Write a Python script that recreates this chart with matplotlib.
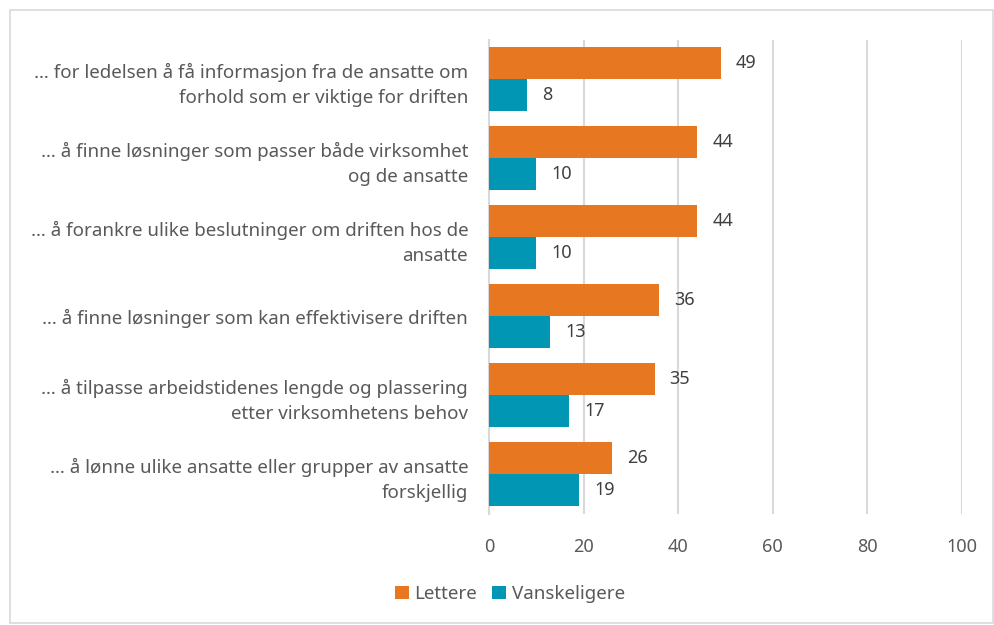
import numpy as np
import matplotlib.pyplot as plt
from matplotlib.patches import Rectangle

plt.rcParams['font.family'] = ['Noto Sans', 'DejaVu Sans']

categories = [
    '… for ledelsen å få informasjon fra de ansatte om\nforhold som er viktige for driften',
    '… å finne løsninger som passer både virksomhet\nog de ansatte',
    '… å forankre ulike beslutninger om driften hos de\nansatte',
    '… å finne løsninger som kan effektivisere driften',
    '… å tilpasse arbeidstidenes lengde og plassering\netter virksomhetens behov',
    '… å lønne ulike ansatte eller grupper av ansatte\nforskjellig',
]
lettere = [49, 44, 44, 36, 35, 26]
vanskeligere = [8, 10, 10, 13, 17, 19]
xticks = [0, 20, 40, 60, 80, 100]

orange = '#E87722'
teal = '#0096B4'
txt = '#595959'

fig = plt.figure(figsize=(9.95, 6.25), dpi=100)
fig.patches.append(Rectangle((10 / 995, 2 / 625), 983 / 995, 613 / 625,
                             transform=fig.transFigure, fill=False,
                             edgecolor='#D9D9D9', linewidth=1.2))

ax = fig.add_axes([489 / 995, 1 - 513.5 / 625, 473 / 995, 474 / 625])

y = np.arange(len(categories))
h = 0.405
ax.barh(y - h / 2, lettere, height=h, color=orange, label='Lettere', zorder=3)
ax.barh(y + h / 2, vanskeligere, height=h, color=teal, label='Vanskeligere', zorder=3)

for yi, v in zip(y, lettere):
    ax.text(v + 3.2, yi - h / 2, str(v), va='center', ha='left', fontsize=13, color='#404040')
for yi, v in zip(y, vanskeligere):
    ax.text(v + 3.2, yi + h / 2, str(v), va='center', ha='left', fontsize=13, color='#404040')

ax.set_ylim(len(categories) - 0.5, -0.5)
ax.set_xlim(0, 100)
ax.set_xticks(xticks)
ax.set_xticklabels([str(t) for t in xticks], fontsize=13, color=txt)
ax.set_yticks(y)
ax.set_yticklabels(categories, fontsize=13.5, color=txt, linespacing=1.55)
ax.tick_params(axis='both', length=0)
ax.tick_params(axis='x', pad=18)
ax.tick_params(axis='y', pad=15)

ax.grid(axis='x', color='#D9D9D9', linewidth=1.5, zorder=0)
for s in ['top', 'right', 'bottom']:
    ax.spines[s].set_visible(False)
ax.spines['left'].set_color('#D9D9D9')
ax.spines['left'].set_linewidth(1.5)

fig.legend(loc='center', bbox_to_anchor=(510 / 995, 1 - 594 / 625), ncol=2,
           frameon=False, fontsize=13.5, handlelength=0.75, handleheight=0.75,
           handletextpad=0.3, columnspacing=0.8, labelcolor=txt)

plt.savefig('out.png', dpi=100, facecolor='white')
